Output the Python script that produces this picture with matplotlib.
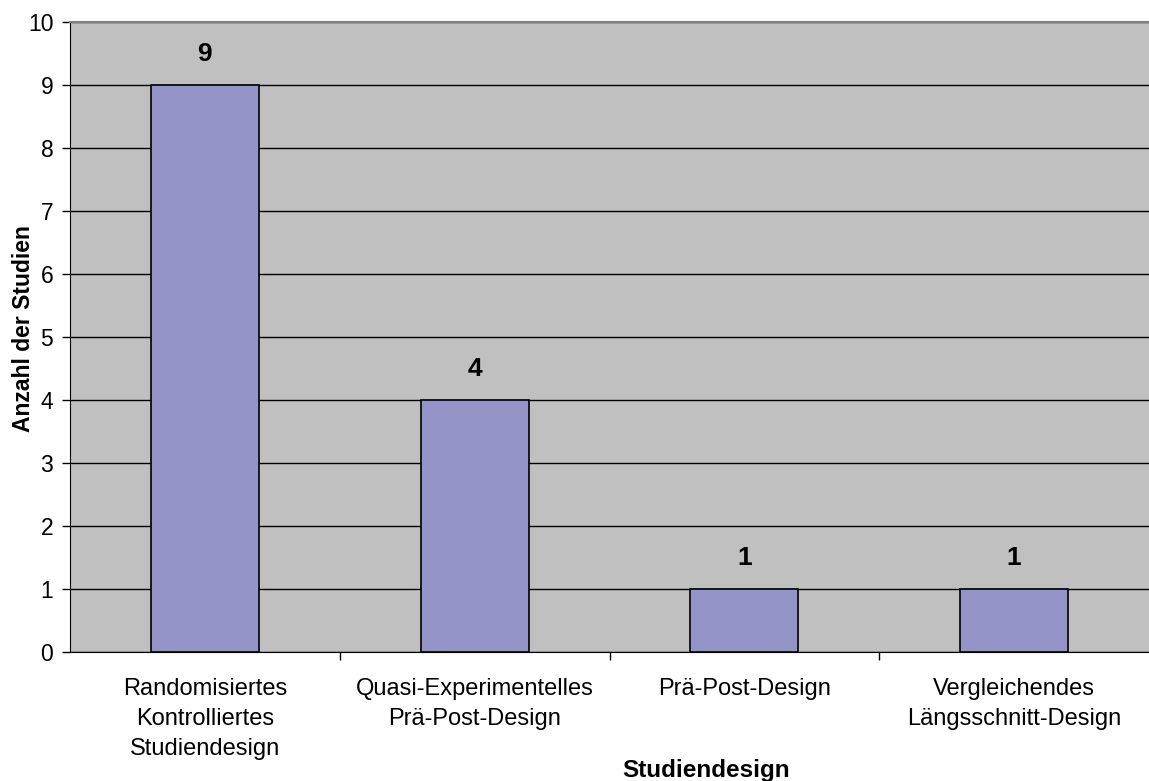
import matplotlib
matplotlib.use("Agg")
import matplotlib.pyplot as plt
import numpy as np

plt.rcParams['font.family'] = ['Liberation Sans', 'DejaVu Sans']

categories = ["Randomisiertes\nKontrolliertes\nStudiendesign",
              "Quasi-Experimentelles\nPrä-Post-Design",
              "Prä-Post-Design",
              "Vergleichendes\nLängsschnitt-Design"]
values = [9, 4, 1, 1]
y_ticks = list(range(0, 11))

fig = plt.figure(figsize=(11.49, 7.81), dpi=100)
ax = fig.add_axes([70/1149, 1 - 652/781, (1149 - 70)/1149, (652 - 22)/781])
ax.set_facecolor('#C0C0C0')

x = np.arange(len(categories))
ax.bar(x, values, width=0.4, color='#9494C8', edgecolor='black', linewidth=1.2, zorder=3)

for xi, v in zip(x, values):
    ax.annotate(str(v), (xi, v), xytext=(0, 22), textcoords='offset points',
                ha='center', va='center', fontsize=19, fontweight='bold')

ax.set_xlim(-0.5, len(categories) - 0.5)
ax.set_ylim(0, 10)
ax.set_yticks(y_ticks)
ax.tick_params(axis='y', length=6, width=1, labelsize=16.5, pad=6)
ax.yaxis.grid(True, color='black', linewidth=1, zorder=1)
ax.set_axisbelow(True)

ax.set_xticks(x)
ax.set_xticklabels(categories, fontsize=17, linespacing=1.45)
ax.tick_params(axis='x', which='major', length=0, pad=19)
ax.set_xticks(np.arange(0.5, len(categories) - 0.5, 1), minor=True)
ax.tick_params(axis='x', which='minor', length=6, width=1)

ax.spines['left'].set_color('black')
ax.spines['bottom'].set_color('black')
ax.spines['top'].set_color('#808080')
ax.spines['top'].set_linewidth(1.5)
ax.spines['right'].set_visible(False)

ax.set_ylabel("Anzahl der Studien", fontsize=16.5, fontweight='bold')
ax.yaxis.set_label_coords(-(70 - 24) / 1079, 0.513)
ax.set_xlabel("Studiendesign", fontsize=17.5, fontweight='bold')
ax.xaxis.set_label_coords((706 - 70) / 1079, -(770 - 652) / 630)
ax.xaxis.label.set_va('center')
ax.yaxis.label.set_va('center')

fig.savefig("out.png", dpi=100)
